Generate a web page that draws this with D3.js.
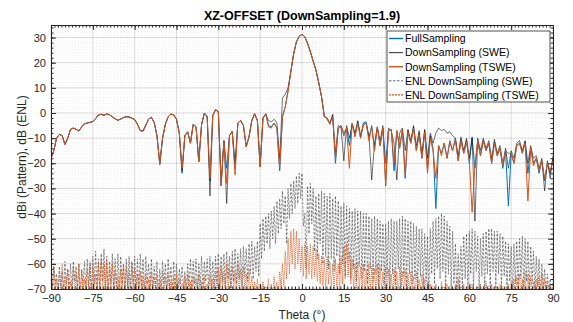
<!DOCTYPE html>
<html>
<head>
<meta charset="utf-8">
<script src="https://cdn.jsdelivr.net/npm/d3@7"></script>
<style>
  body { margin: 0; background: #fff; }
  svg { display: block; }
  text { font-family: "Liberation Sans", Arial, sans-serif; }
</style>
</head>
<body>
<div id="chart"></div>
<script>
// angle grids (degrees)
const theta = d3.range(-90, 90.5, 1);
const thetaEnl = d3.range(-90, 90.25, 0.5);

const xTicks = [-90, -75, -60, -45, -30, -15, 0, 15, 30, 45, 60, 75, 90];
const yTicks = [-70, -60, -50, -40, -30, -20, -10, 0, 10, 20, 30];

// pattern, dBi, one value per degree from -90 to 90
const fullSampling = [
  -18, -15, -10, -8.5, -9, -12.5, -10, -6.5, -6, -6.5,
  -7.2, -5.5, -4.3, -4, -3.7, -3.4, -2.2, -0.8, -0.5, -0.9,
  -0.4, -0.7, -1.5, -2.3, -2.9, -2.4, -1.8, -1.5, -1.6, -2.1,
  -2.6, -4.5, -7, -7.2, -4.8, -2.4, -1.7, -3.8, -9, -20.5,
  -10, -4.5, -1.5, -0.4, -0.8, -2.5, -8, -24, -9, -7.5,
  -12, -4.5, -5.5, -19.5, -4.5, 0, -1.5, -27, -1, 1.3,
  0.5, -29, -11, -22, -9, -7.3, -22, -4, -3, -5,
  -13.5, -9.5, -3, -0.3, -3, -21.5, -2, -0.3, -5, -5.5,
  -4, -6, -23, -1.5, 2.5, 9, 16.5, 23.5, 28.3, 30.5,
  31.3, 30.3, 27.7, 24.3, 20.6, 17, 12, 6.5, -1.5, -2,
  -4, -1, -20, -6, -5, -9, -6, -13, -4, -9,
  -3.5, -10, -4, -3.5, -10, -5, -14, -5.5, -13, -6,
  -20, -7, -6.5, -23, -7, -14, -6.5, -26, -7, -12,
  -5.5, -15, -8, -18, -7, -22, -9, -14, -38, -13,
  -16, -12, -18, -11, -15, -10, -19, -10.5, -16, -11,
  -20, -10, -22, -11, -17, -11, -15, -12, -20, -11.5,
  -17, -14, -22, -15, -37, -16, -20, -13, -12, -16,
  -11.5, -24, -14, -20, -18, -24, -19, -27, -20, -24,
  -18
];

const downSamplingSWE = [
  -18, -15, -10, -8.5, -9, -12.5, -10, -6.5, -6, -6.5,
  -7.2, -5.5, -4.3, -4, -3.7, -3.4, -2.2, -0.8, -0.5, -0.9,
  -0.4, -0.7, -1.5, -2.3, -2.9, -2.4, -1.8, -1.5, -1.6, -2.1,
  -2.6, -4.5, -7, -7.2, -4.8, -2.4, -1.7, -3.8, -9, -20,
  -10, -4.5, -1.5, -0.4, -0.8, -2.5, -8, -23, -9, -7.5,
  -12, -4.5, -5.5, -19, -4.5, 0, -1.5, -33, -1, 1.3,
  0.5, -28, -11, -36, -9, -7.5, -20, -4, -3, -5,
  -13, -9.5, -3, -0.3, -3, -21, -2, -0.5, -3, -3.5,
  -2.5, -4, -18, 6, 7.5, 10, 16.5, 23.5, 28.3, 30.5,
  31.3, 30.3, 27.7, 24.5, 20.8, 17.2, 12.2, 6.5, -1, -2.5,
  -4.5, -0.5, -16, -5, -6, -19, -5, -10, -4.5, -8,
  -3, -9, -5, -4, -9, -26.6, -12, -6, -11, -5,
  -29, -6, -7, -12, -26.6, -8, -6, -15, -6.5, -11,
  -5, -13, -7, -16, -6.5, -18, -8, -12, -8, -6,
  -7, -6.5, -8, -7.5, -9, -10, -17, -9.5, -15, -10,
  -18, -9.5, -43, -10, -15, -10, -14, -11, -18, -10.5,
  -16, -13, -20, -14, -22, -15, -18, -12, -11, -15,
  -11, -20, -13, -18, -17, -22, -18, -31, -19, -26,
  -17
];

const downSamplingTSWE = [
  -18, -15, -10, -8.5, -9, -12.5, -10, -6.5, -6, -6.5,
  -7.2, -5.5, -4.3, -4, -3.7, -3.4, -2.2, -0.8, -0.5, -0.9,
  -0.4, -0.7, -1.5, -2.3, -2.9, -2.4, -1.8, -1.5, -1.6, -2.1,
  -2.6, -4.5, -7, -7.2, -4.8, -2.4, -1.7, -3.8, -9, -20.5,
  -10, -4.5, -1.5, -0.4, -0.8, -2.5, -8, -22, -9, -7.5,
  -12, -4.5, -5.5, -19.5, -4.5, 0, -1.5, -26, -1, 1.3,
  0.5, -29, -11, -28, -9, -7.3, -24.6, -4, -3, -5,
  -13.5, -9.5, -3, -0.3, -3, -21.5, -2, -0.3, -5.5, -6,
  -4, -6, -22, -1.5, 2.5, 8.5, 16.5, 23.5, 28.3, 30.5,
  31.3, 30.3, 27.7, 24.3, 20.6, 17, 12, 6.5, -1.5, -2,
  -4, -1.5, -18, -6, -5, -8, -6, -22, -4, -9.5,
  -4, -10, -4.5, -4, -11, -5.5, -15, -5.5, -13, -6,
  -28.5, -7, -6.5, -20, -7, -14, -6.5, -24.6, -7.5, -12,
  -6, -15, -8.5, -18, -7.5, -24, -10, -15, -26, -13,
  -17, -12, -18, -11.5, -15, -10.5, -19, -11, -16, -11.5,
  -19, -39.5, -21, -11, -17, -11, -15, -12, -20, -12,
  -17, -14, -21, -15, -16, -16, -20, -13, -12, -16,
  -12, -35, -14, -21, -18, -23, -19, -26, -20, -23,
  -19
];

// ENL, dB, one value per half degree from -90 to 90
const enlSWE = [
  -62, -70, -60, -68, -64, -72, -61, -69, -63, -71, -59, -68, -62, -70, -60, -72, -59, -67, -61, -70,
  -60, -73, -62, -68, -59, -70, -58, -69, -60, -72, -57, -68, -55, -70, -58, -71, -56, -67, -54, -70,
  -57, -72, -59, -68, -56, -70, -58, -69, -56, -71, -57, -68, -60, -72, -58, -69, -57, -70, -59, -68,
  -57, -71, -58, -70, -56, -69, -58, -72, -57, -68, -60, -70, -58, -71, -61, -69, -59, -72, -62, -70,
  -59, -68, -60, -71, -58, -69, -61, -72, -59, -70, -60, -71, -62, -68, -61, -70, -63, -72, -60, -69,
  -58, -70, -59, -68, -58, -71, -60, -69, -57, -70, -59, -67, -58, -70, -57, -69, -59, -71, -57, -68,
  -56, -70, -57, -67, -56, -69, -55, -66, -57, -70, -55, -67, -54, -68, -56, -66, -54, -69, -53, -65,
  -54, -67, -52, -64, -51, -66, -53, -63, -51, -65, -44, -58, -42, -55, -41, -52, -40, -54, -39, -50,
  -37, -52, -35, -48, -34, -46, -31, -44, -33, -52, -30, -42, -28, -40, -27, -38, -25, -36, -24, -34,
  -24, -45, -40, -62, -29, -48, -28, -44, -30, -55, -33, -58, -32, -52, -31, -60, -32, -57, -33, -62,
  -32, -58, -34, -63, -33, -57, -35, -64, -37, -60, -36, -65, -37, -59, -38, -66, -39, -62, -38, -67,
  -39, -61, -39, -66, -40, -63, -40, -68, -41, -62, -42, -67, -41, -64, -42, -69, -43, -63, -44, -68,
  -44, -65, -43, -70, -42, -64, -43, -68, -43, -62, -42, -69, -41, -65, -42, -70, -43, -64, -43, -68,
  -44, -66, -45, -71, -46, -65, -46, -70, -48, -67, -49, -72, -46, -64, -43, -68, -42, -62, -41, -66,
  -40, -63, -41, -69, -43, -64, -45, -70, -47, -68, -52, -72, -56, -71, -53, -69, -49, -66, -48, -70,
  -47, -64, -46, -69, -47, -63, -49, -70, -50, -65, -48, -71, -47, -64, -46, -69, -46, -63, -47, -70,
  -47, -64, -48, -69, -49, -65, -51, -71, -52, -67, -53, -72, -52, -68, -51, -70, -50, -66, -49, -71,
  -50, -67, -51, -71, -53, -68, -55, -72, -57, -69, -58, -73, -60, -70, -62, -72, -64, -71, -66, -73,
  -67
];

const enlTSWE = [
  -64, -72, -61, -70, -66, -74, -63, -71, -60, -72, -65, -70, -62, -73, -67, -71, -61, -72, -64, -70,
  -60, -73, -63, -71, -66, -72, -62, -70, -59, -72, -61, -71, -64, -73, -60, -70, -58, -72, -60, -71,
  -59, -73, -62, -70, -60, -72, -63, -71, -65, -73, -62, -70, -60, -72, -61, -71, -63, -73, -60, -70,
  -62, -72, -64, -71, -63, -73, -65, -72, -64, -71, -66, -73, -63, -72, -65, -71, -64, -73, -66, -72,
  -63, -71, -65, -73, -64, -72, -67, -71, -65, -73, -64, -72, -66, -71, -68, -73, -65, -72, -64, -71,
  -67, -73, -65, -72, -66, -71, -64, -73, -67, -72, -65, -71, -68, -73, -64, -72, -66, -71, -63, -73,
  -62, -72, -61, -70, -63, -72, -60, -71, -62, -73, -61, -70, -63, -72, -60, -71, -62, -73, -61, -70,
  -64, -72, -62, -71, -65, -73, -67, -72, -66, -71, -68, -73, -67, -72, -69, -71, -66, -73, -68, -72,
  -65, -71, -67, -73, -63, -70, -60, -69, -55, -66, -50, -64, -47, -60, -46, -62, -47, -60, -50, -63,
  -53, -65, -52, -66, -53, -64, -52, -66, -53, -65, -54, -67, -56, -68, -57, -69, -58, -70, -57, -68,
  -59, -70, -60, -71, -58, -69, -60, -71, -57, -68, -53, -66, -52, -65, -55, -68, -58, -70, -60, -71,
  -59, -70, -61, -72, -60, -70, -62, -72, -60, -71, -61, -73, -62, -71, -60, -72, -61, -70, -63, -72,
  -61, -71, -62, -73, -64, -72, -62, -71, -63, -73, -61, -72, -63, -71, -62, -73, -64, -72, -63, -71,
  -65, -73, -63, -72, -66, -71, -64, -73, -66, -72, -67, -73, -68, -72, -69, -73, -68, -72, -70, -74,
  -67, -73, -69, -72, -68, -74, -70, -73, -69, -72, -68, -74, -66, -73, -69, -72, -68, -74, -70, -73,
  -69, -72, -68, -74, -70, -73, -69, -72, -68, -74, -69, -73, -67, -72, -69, -74, -68, -73, -70, -72,
  -69, -74, -68, -73, -69, -72, -70, -74, -68, -73, -67, -72, -66, -74, -65, -73, -64, -72, -66, -74,
  -63, -73, -64, -72, -65, -74, -67, -73, -66, -72, -65, -74, -64, -73, -66, -72, -67, -74, -68, -73,
  -69
];

const series = [
  { name: 'FullSampling', xs: theta, values: fullSampling, color: '#0072BD', width: 1, dash: null, opacity: 1, key: 1.4, keyDash: null },
  { name: 'DownSampling (SWE)', xs: theta, values: downSamplingSWE, color: '#000000', width: 0.8, dash: null, opacity: 0.7, key: 1.2, keyDash: null },
  { name: 'DownSampling (TSWE)', xs: theta, values: downSamplingTSWE, color: '#D95319', width: 1, dash: null, opacity: 1, key: 1.4, keyDash: null },
  { name: 'ENL DownSampling (SWE)', xs: thetaEnl, values: enlSWE, color: '#404040', width: 0.6, dash: '2.5,1.5', opacity: 1, key: 0.8, keyDash: '2.5,1.5' },
  { name: 'ENL DownSampling (TSWE)', xs: thetaEnl, values: enlTSWE, color: '#D95319', width: 0.9, dash: '1,1', opacity: 1, key: 1.2, keyDash: '2,1' }
];

const W = 573, H = 322;
const margin = { top: 25, right: 20, bottom: 33, left: 51 };
const width = W - margin.left - margin.right;
const height = H - margin.top - margin.bottom;
const axisColor = '#262626';

const svg = d3.select('#chart').append('svg')
  .attr('width', W)
  .attr('height', H);

const g = svg.append('g')
  .attr('transform', `translate(${margin.left},${margin.top})`);

const x = d3.scaleLinear().domain([-90, 90]).range([0, width]);
const y = d3.scaleLinear().domain([-70, 35]).range([height, 0]);

const xMinor = d3.range(-90, 90.01, 1.25);
const yMinor = d3.range(-70, 35.01, 2);

// minor grid (dotted)
g.append('g').selectAll('line').data(xMinor).enter().append('line')
  .attr('x1', d => x(d)).attr('x2', d => x(d))
  .attr('y1', 0).attr('y2', height)
  .attr('stroke', axisColor).attr('stroke-opacity', 0.12)
  .attr('stroke-width', 0.5).attr('stroke-dasharray', '1,2');
g.append('g').selectAll('line').data(yMinor).enter().append('line')
  .attr('x1', 0).attr('x2', width)
  .attr('y1', d => y(d)).attr('y2', d => y(d))
  .attr('stroke', axisColor).attr('stroke-opacity', 0.12)
  .attr('stroke-width', 0.5).attr('stroke-dasharray', '1,2');

// major grid
g.append('g').selectAll('line').data(xTicks).enter().append('line')
  .attr('x1', d => x(d)).attr('x2', d => x(d))
  .attr('y1', 0).attr('y2', height)
  .attr('stroke', axisColor).attr('stroke-opacity', 0.15);
g.append('g').selectAll('line').data(yTicks).enter().append('line')
  .attr('x1', 0).attr('x2', width)
  .attr('y1', d => y(d)).attr('y2', d => y(d))
  .attr('stroke', axisColor).attr('stroke-opacity', 0.15);

// data lines, clipped to the axes box
g.append('clipPath').attr('id', 'plot-clip')
  .append('rect').attr('width', width).attr('height', height);

const plot = g.append('g').attr('clip-path', 'url(#plot-clip)');

series.forEach(s => {
  const line = d3.line()
    .x((d, i) => x(s.xs[i]))
    .y(d => y(d));
  plot.append('path')
    .datum(s.values)
    .attr('fill', 'none')
    .attr('stroke', s.color)
    .attr('stroke-width', s.width)
    .attr('stroke-opacity', s.opacity)
    .attr('stroke-dasharray', s.dash)
    .attr('stroke-linejoin', 'round')
    .attr('d', line);
});

// axes
const styleAxis = sel => {
  sel.selectAll('.domain').attr('stroke', axisColor);
  sel.selectAll('.tick line').attr('stroke', axisColor);
  sel.selectAll('text').attr('fill', axisColor).style('font-size', '11px');
};

g.append('g').attr('transform', `translate(0,${height})`)
  .call(d3.axisBottom(x).tickValues(xMinor).tickSize(-2.5).tickSizeOuter(0).tickFormat(''))
  .call(styleAxis);
g.append('g')
  .call(d3.axisTop(x).tickValues(xMinor).tickSize(-2.5).tickSizeOuter(0).tickFormat(''))
  .call(styleAxis);
g.append('g')
  .call(d3.axisLeft(y).tickValues(yMinor).tickSize(-2.5).tickSizeOuter(0).tickFormat(''))
  .call(styleAxis);
g.append('g').attr('transform', `translate(${width},0)`)
  .call(d3.axisRight(y).tickValues(yMinor).tickSize(-2.5).tickSizeOuter(0).tickFormat(''))
  .call(styleAxis);

g.append('g').attr('transform', `translate(0,${height})`)
  .call(d3.axisBottom(x).tickValues(xTicks).tickSize(-5).tickSizeOuter(0).tickPadding(5))
  .call(styleAxis);
g.append('g')
  .call(d3.axisTop(x).tickValues(xTicks).tickSize(-5).tickSizeOuter(0).tickFormat(''))
  .call(styleAxis);
g.append('g')
  .call(d3.axisLeft(y).tickValues(yTicks).tickSize(-5).tickSizeOuter(0).tickPadding(5))
  .call(styleAxis);
g.append('g').attr('transform', `translate(${width},0)`)
  .call(d3.axisRight(y).tickValues(yTicks).tickSize(-5).tickSizeOuter(0).tickFormat(''))
  .call(styleAxis);

// title and labels
svg.append('text')
  .attr('x', margin.left + width / 2).attr('y', 20)
  .attr('text-anchor', 'middle')
  .style('font-size', '12.5px').style('font-weight', 'bold')
  .attr('fill', '#000')
  .text('XZ-OFFSET (DownSampling=1.9)');

svg.append('text')
  .attr('x', margin.left + width / 2).attr('y', 319)
  .attr('text-anchor', 'middle')
  .style('font-size', '12px')
  .attr('fill', axisColor)
  .text('Theta (°)');

svg.append('text')
  .attr('transform', `translate(26,${margin.top + height / 2}) rotate(-90)`)
  .attr('text-anchor', 'middle')
  .style('font-size', '12px')
  .attr('fill', axisColor)
  .text('dBi (Pattern), dB (ENL)');

// legend
const legend = svg.append('g').attr('transform', 'translate(387,31)');
legend.append('rect')
  .attr('width', 163).attr('height', 71)
  .attr('fill', '#fff')
  .attr('stroke', axisColor).attr('stroke-width', 0.8);

series.forEach((s, i) => {
  const row = legend.append('g').attr('transform', `translate(0,${7.5 + i * 14.1})`);
  row.append('line')
    .attr('x1', 2).attr('x2', 16)
    .attr('stroke', s.color)
    .attr('stroke-width', s.key)
    .attr('stroke-opacity', s.opacity)
    .attr('stroke-dasharray', s.keyDash);
  row.append('text')
    .attr('x', 18).attr('y', 3.8)
    .style('font-size', '10.5px')
    .attr('fill', '#000')
    .text(s.name);
});
</script>
</body>
</html>
